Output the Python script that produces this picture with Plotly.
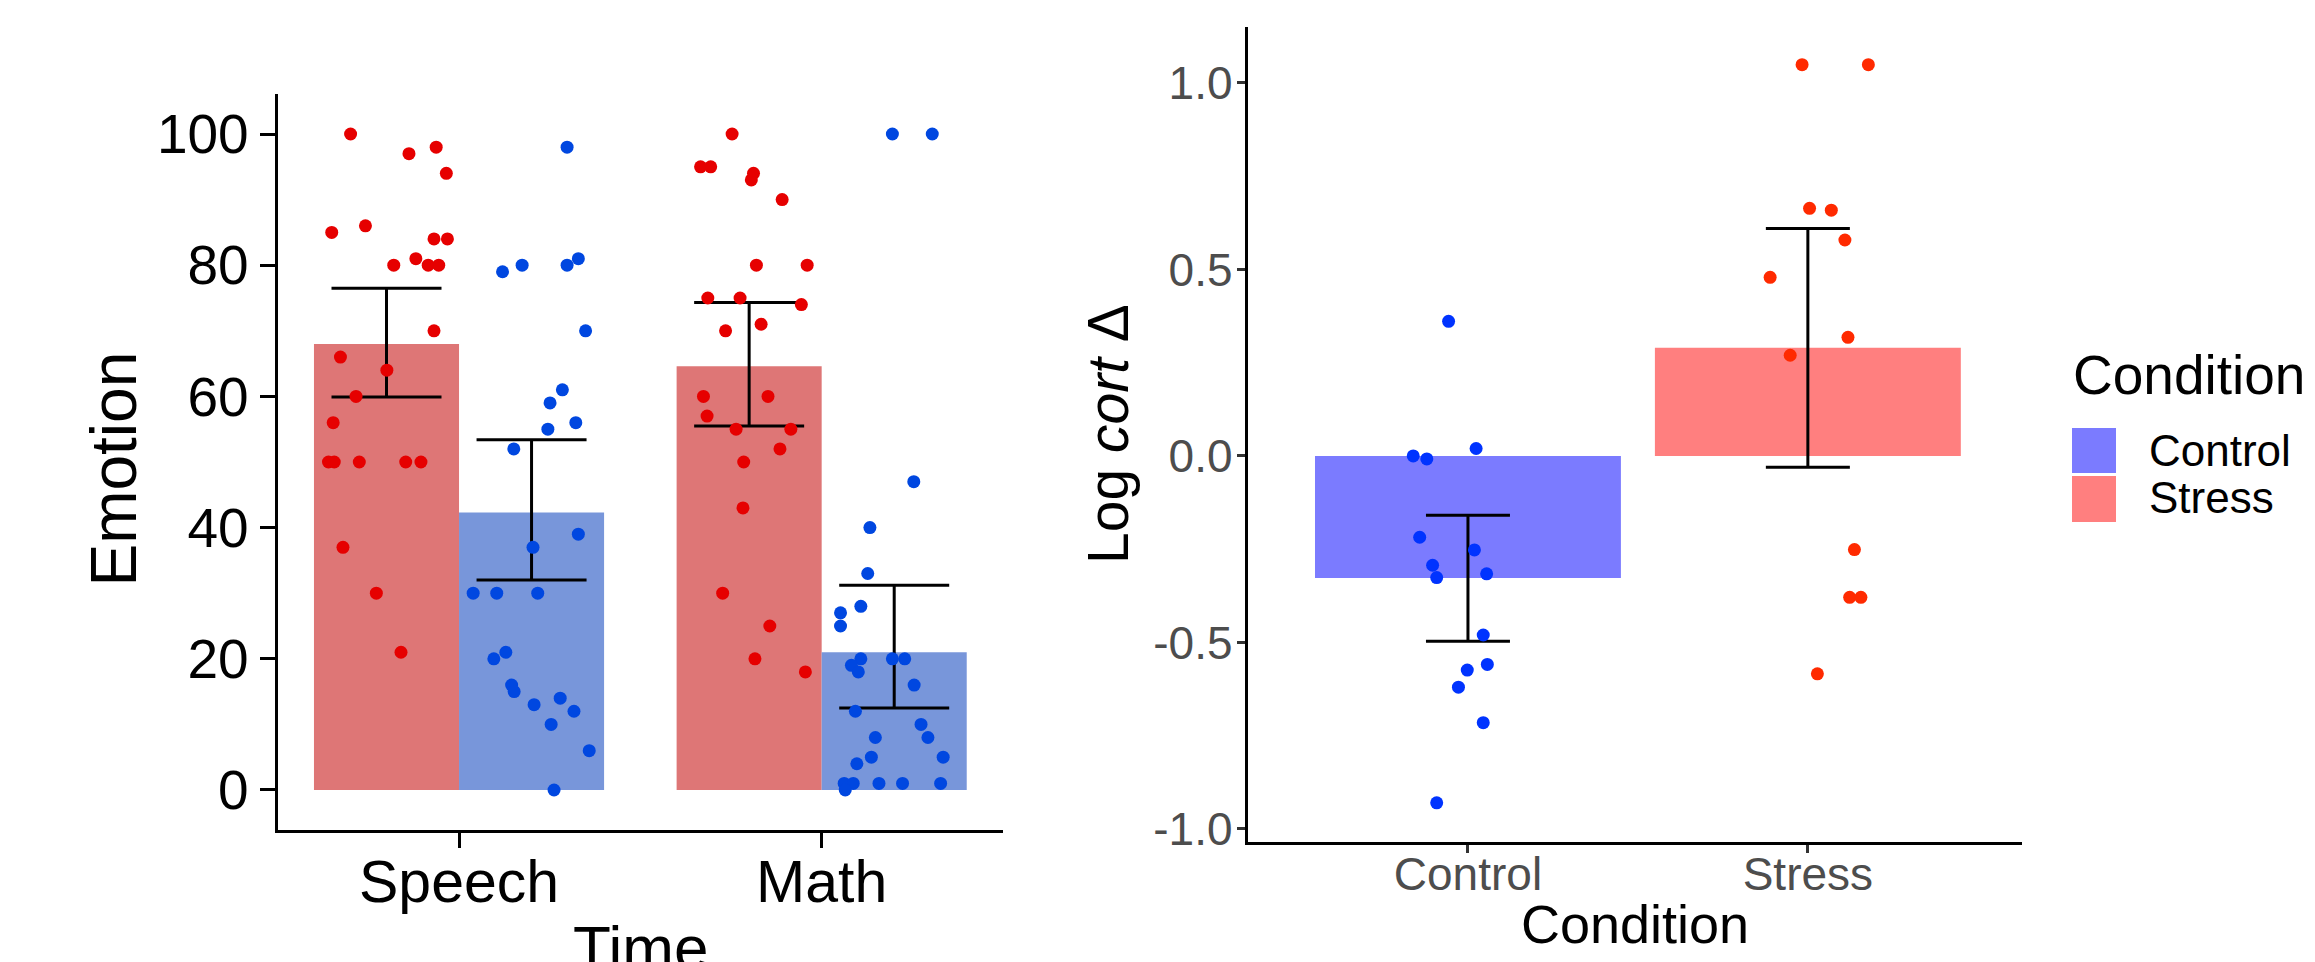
import plotly.graph_objects as go

# ---------------- Emotion ratings by Time (left panel) ----------------
time_labels = ["Speech", "Math"]
emotion_ticks = [0, 20, 40, 60, 80, 100]

# Stress group (red) and Control group (blue); jitter = horizontal offset within bar
speech_stress = [100, 97, 98, 94, 85, 86, 80, 81, 80, 80, 84, 84, 70, 66, 64, 60, 56,
                 50, 50, 50, 50, 50, 37, 30, 21]
speech_stress_jit = [-0.099, 0.062, 0.137, 0.165, -0.151, -0.058, 0.020, 0.081, 0.115,
                     0.144, 0.131, 0.168, 0.131, -0.127, 0.001, -0.084, -0.147, -0.160,
                     -0.144, -0.075, 0.053, 0.095, -0.120, -0.028, 0.040]
speech_control = [98, 79, 80, 80, 81, 70, 61, 59, 56, 55, 52, 39, 37, 30, 30, 30, 21,
                  20, 16, 15, 14, 13, 12, 10, 6, 0]
speech_control_jit = [0.098, -0.080, -0.026, 0.098, 0.129, 0.149, 0.085, 0.051, 0.122,
                      0.045, -0.049, 0.129, 0.004, -0.161, -0.096, 0.017, -0.071, -0.104,
                      -0.055, -0.048, 0.079, 0.007, 0.117, 0.054, 0.159, 0.062]
math_stress = [100, 95, 95, 94, 93, 90, 80, 80, 75, 75, 74, 70, 71, 60, 60, 57, 55, 55,
               52, 50, 43, 30, 25, 20, 18]
math_stress_jit = [-0.047, -0.134, -0.106, 0.012, 0.006, 0.091, 0.020, 0.160, -0.114,
                   -0.025, 0.144, -0.065, 0.033, -0.126, 0.052, -0.116, -0.036, 0.115,
                   0.085, -0.015, -0.017, -0.073, 0.057, 0.016, 0.155]
math_control = [100, 100, 47, 40, 33, 28, 27, 25, 20, 19, 18, 20, 20, 16, 12, 10, 8, 8,
                5, 5, 4, 1, 1, 0, 1, 1, 1]
math_control_jit = [-0.005, 0.105, 0.054, -0.067, -0.073, -0.092, -0.148, -0.148, -0.092,
                    -0.118, -0.099, -0.005, 0.029, 0.055, -0.107, 0.074, 0.093, -0.052,
                    -0.063, 0.135, -0.103, -0.138, -0.113, -0.135, -0.042, 0.023, 0.128]

# Means and error-bar limits, ordered [Speech, Math]
stress_mean = [68.0, 64.6]
stress_lo = [59.9, 55.5]
stress_hi = [76.5, 74.3]
control_mean = [42.3, 21.0]
control_lo = [32.0, 12.5]
control_hi = [53.4, 31.2]

# ---------------- Log cortisol change by Condition (right panel) ----------------
conditions = ["Control", "Stress"]
cort_ticks = [-1.0, -0.5, 0.0, 0.5, 1.0]
cort_tick_text = ["-1.0", "-0.5", "0.0", "0.5", "1.0"]

cort_control = [0.361, 0.000, -0.008, 0.020, -0.218, -0.252, -0.293, -0.326, -0.316,
                -0.480, -0.574, -0.559, -0.620, -0.715, -0.930]
cort_control_jit = [-0.057, -0.161, -0.121, 0.024, -0.142, 0.019, -0.104, -0.092, 0.055,
                    0.045, -0.002, 0.057, -0.028, 0.045, -0.092]
cort_stress = [1.049, 1.049, 0.664, 0.659, 0.579, 0.479, 0.318, 0.270, -0.251, -0.379,
               -0.379, -0.584]
cort_stress_jit = [-0.017, 0.178, 0.005, 0.069, 0.109, -0.111, 0.118, -0.052, 0.137,
                   0.123, 0.156, 0.028]

cort_mean = [-0.327, 0.290]
cort_lo = [-0.497, -0.030]
cort_hi = [-0.159, 0.610]

# ---------------- styling ----------------
FONT = "Liberation Sans"
L_RED_BAR, L_BLUE_BAR = "#DE7676", "#7896DA"
L_RED_PT, L_BLUE_PT = "#E60000", "#0047E0"
R_BLUE_BAR, R_RED_BAR = "#7B7BFF", "#FF7F7F"
R_BLUE_PT, R_RED_PT = "#0033FF", "#FF2A00"

W, H = 2315, 962
DODGE = 0.2      # half of the dodged group width
BAR_W = 0.4

fig = go.Figure()

grp = [1, 2]
x_stress = [g - DODGE for g in grp]
x_control = [g + DODGE for g in grp]

# bars
fig.add_trace(go.Bar(x=x_stress, y=stress_mean, width=BAR_W, marker_color=L_RED_BAR,
                     marker_line_width=0, xaxis="x", yaxis="y", showlegend=False))
fig.add_trace(go.Bar(x=x_control, y=control_mean, width=BAR_W, marker_color=L_BLUE_BAR,
                     marker_line_width=0, xaxis="x", yaxis="y", showlegend=False))


def err_trace(xs, mean, lo, hi, half_px, thick, xa, ya):
    return go.Scatter(
        x=xs, y=mean, mode="markers", marker=dict(size=1, opacity=0),
        error_y=dict(type="data", symmetric=False,
                     array=[h - m for h, m in zip(hi, mean)],
                     arrayminus=[m - l for m, l in zip(mean, lo)],
                     color="black", thickness=thick, width=half_px),
        xaxis=xa, yaxis=ya, showlegend=False, hoverinfo="skip")


fig.add_trace(err_trace(x_stress, stress_mean, stress_lo, stress_hi, 55, 3, "x", "y"))
fig.add_trace(err_trace(x_control, control_mean, control_lo, control_hi, 55, 3, "x", "y"))


def pts(center, vals, jit, color, size, xa, ya):
    return go.Scatter(x=[center + j for j in jit], y=vals, mode="markers",
                      marker=dict(color=color, size=size, line_width=0),
                      xaxis=xa, yaxis=ya, showlegend=False)


fig.add_trace(pts(x_stress[0], speech_stress, speech_stress_jit, L_RED_PT, 13, "x", "y"))
fig.add_trace(pts(x_control[0], speech_control, speech_control_jit, L_BLUE_PT, 13, "x", "y"))
fig.add_trace(pts(x_stress[1], math_stress, math_stress_jit, L_RED_PT, 13, "x", "y"))
fig.add_trace(pts(x_control[1], math_control, math_control_jit, L_BLUE_PT, 13, "x", "y"))

# right panel
fig.add_trace(go.Bar(x=[1, 2], y=cort_mean, width=0.9,
                     marker_color=[R_BLUE_BAR, R_RED_BAR], marker_line_width=0,
                     xaxis="x2", yaxis="y2", showlegend=False))
fig.add_trace(err_trace([1, 2], cort_mean, cort_lo, cort_hi, 42, 3, "x2", "y2"))
fig.add_trace(pts(1, cort_control, cort_control_jit, R_BLUE_PT, 13, "x2", "y2"))
fig.add_trace(pts(2, cort_stress, cort_stress_jit, R_RED_PT, 13, "x2", "y2"))


def px_x(v):
    return v / W


def px_y(v):
    return (H - v) / H


axis_base = dict(showline=True, linecolor="black", linewidth=3, ticks="outside",
                 showgrid=False, zeroline=False, automargin=False)
left_ticks = dict(ticklen=15, tickwidth=3, tickcolor="black")
right_ticks = dict(ticklen=8, tickwidth=3, tickcolor="#333333",
                   tickfont=dict(family=FONT, size=46, color="#4D4D4D"))

fig.update_layout(
    template="none",
    width=W, height=H, margin=dict(l=0, r=0, t=0, b=0, pad=0),
    paper_bgcolor="white", plot_bgcolor="white", barmode="overlay",
    font=dict(family=FONT, color="black"),
    xaxis=dict(domain=[px_x(277.7), px_x(1003)], range=[0.5, 2.5], anchor="y",
               tickvals=grp, ticktext=time_labels, ticklabelstandoff=-17,
               tickfont=dict(family=FONT, size=59, color="black"),
               **axis_base, **left_ticks),
    yaxis=dict(domain=[px_y(830), px_y(94)], range=[-6.1, 106.1], anchor="x",
               tickvals=emotion_ticks,
               tickfont=dict(family=FONT, size=55, color="black"),
               **axis_base, **left_ticks),
    xaxis2=dict(domain=[px_x(1247.7), px_x(2022)], range=[0.352, 2.63], anchor="y2",
                tickvals=[1, 2], ticktext=conditions, ticklabelstandoff=-18,
                **axis_base, **right_ticks),
    yaxis2=dict(domain=[px_y(842), px_y(27)], range=[-1.035, 1.150], anchor="x2",
                tickvals=cort_ticks, ticktext=cort_tick_text, ticklabelstandoff=-5,
                **axis_base, **right_ticks),
)

ann = [
    dict(text="Emotion", x=px_x(113.5), y=px_y(469), textangle=-90, font_size=64),
    dict(text="Time", x=px_x(640), y=px_y(947), font_size=62),
    dict(text="Log <i>cort</i> Δ", x=px_x(1108), y=px_y(434), textangle=-90, font_size=57),
    dict(text="Condition", x=px_x(1635), y=px_y(924), font_size=54),
    dict(text="Condition", x=px_x(2071), y=px_y(375), font_size=55, xanchor="left"),
    dict(text="Control", x=px_x(2147), y=px_y(450), font_size=44, xanchor="left"),
    dict(text="Stress", x=px_x(2147), y=px_y(497), font_size=44, xanchor="left"),
]
for a in ann:
    a.setdefault("xanchor", "center")
    fig.add_annotation(xref="paper", yref="paper", showarrow=False, yanchor="middle",
                       font=dict(family=FONT, color="black", size=a.pop("font_size")), **a)

# legend keys
fig.add_shape(type="rect", xref="paper", yref="paper", x0=px_x(2072), x1=px_x(2116),
              y0=px_y(473), y1=px_y(428), fillcolor=R_BLUE_BAR, line_width=0)
fig.add_shape(type="rect", xref="paper", yref="paper", x0=px_x(2072), x1=px_x(2116),
              y0=px_y(522), y1=px_y(476), fillcolor=R_RED_BAR, line_width=0)

fig.write_html("out.html")
